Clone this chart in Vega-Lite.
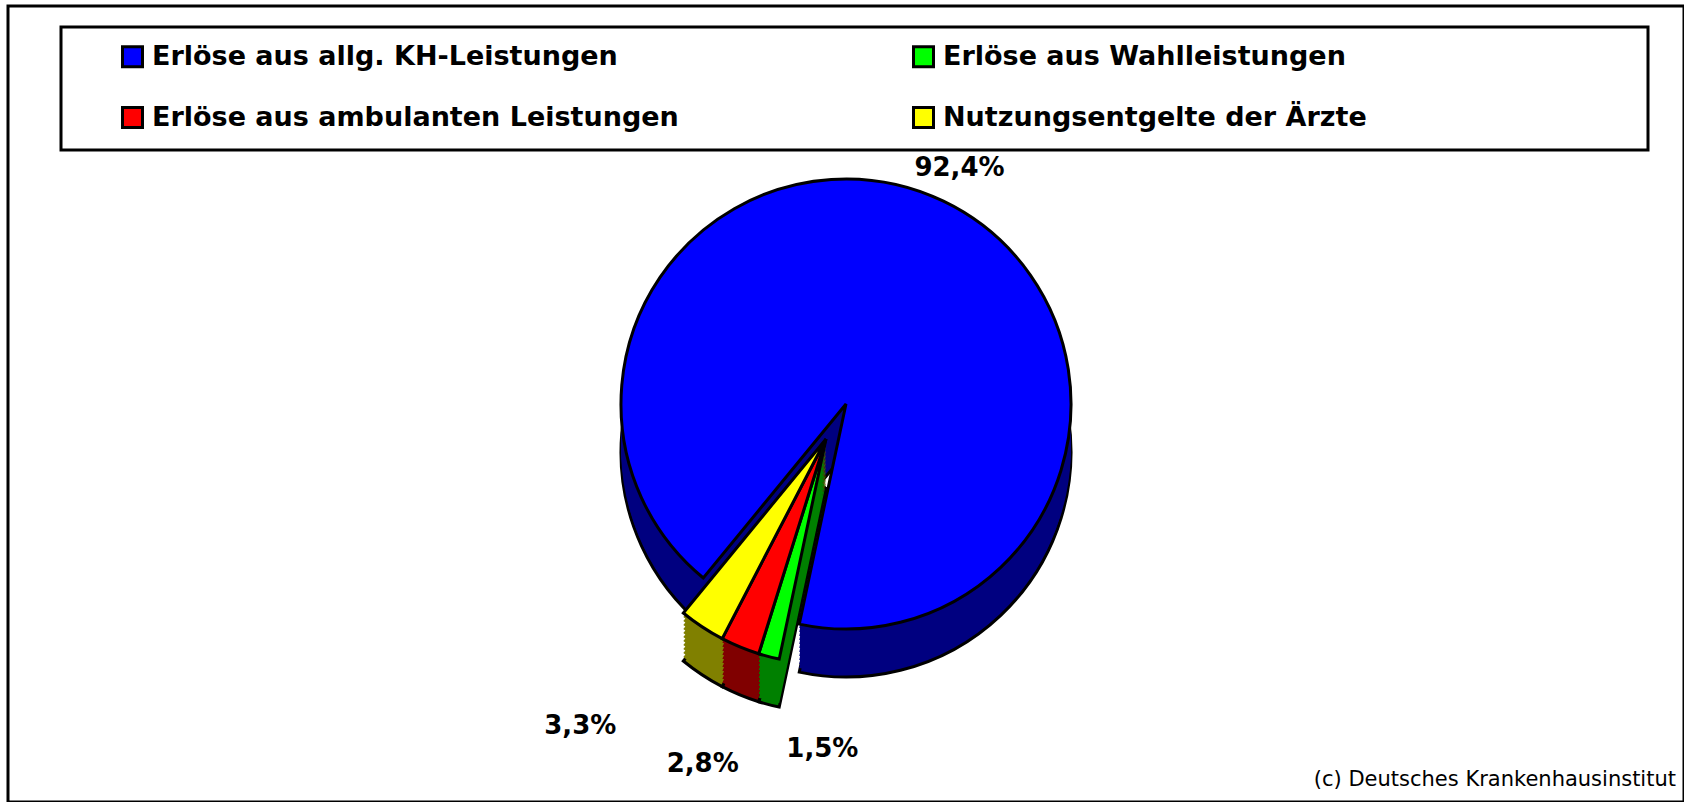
{
  "$schema": "https://vega.github.io/schema/vega-lite/v6.json",
  "autosize": {"type": "fit", "contains": "padding"},
  "width": 1684,
  "height": 802,
  "padding": {"left": 8, "top": 6, "right": 0, "bottom": 0},
  "background": "white",
  "config": {
    "view": {"stroke": "black", "strokeWidth": 3},
    "font": "DejaVu Sans"
  },
  "data": {
    "values": [
      {"cat": "Erlöse aus Wahlleistungen", "value": 1.5, "label": "1,5%"},
      {"cat": "Erlöse aus ambulanten Leistungen", "value": 2.8, "label": "2,8%"},
      {"cat": "Nutzungsentgelte der Ärzte", "value": 3.3, "label": "3,3%"},
      {"cat": "Erlöse aus allg. KH-Leistungen", "value": 92.4, "label": "92,4%"}
    ]
  },
  "transform": [
    {"stack": "value", "groupby": [], "as": ["v0", "v1"]},
    {"calculate": "(datum.v0 + datum.v1) / 2", "as": "vmid"}
  ],
  "layer": [
    {"transform": [{"filter": "datum.value > 50"}], "mark": {"type": "arc", "outerRadius": 225, "yOffset": 48, "fill": "#000080", "stroke": "black", "strokeWidth": 3},
     "encoding": {"theta": {"field": "v0", "type": "quantitative", "stack": null, "scale": {"domain": [0, 100], "range": [3.351, 9.634]}}, "theta2": {"field": "v1"}}},
    {"transform": [{"filter": "datum.value > 50"}], "mark": {"type": "arc", "outerRadius": 225, "yOffset": 44, "fill": "#000080"}, "encoding": {"theta": {"field": "v0", "type": "quantitative", "stack": null}, "theta2": {"field": "v1"}}},
    {"transform": [{"filter": "datum.value > 50"}], "mark": {"type": "arc", "outerRadius": 225, "yOffset": 40, "fill": "#000080"}, "encoding": {"theta": {"field": "v0", "type": "quantitative", "stack": null}, "theta2": {"field": "v1"}}},
    {"transform": [{"filter": "datum.value > 50"}], "mark": {"type": "arc", "outerRadius": 225, "yOffset": 36, "fill": "#000080"}, "encoding": {"theta": {"field": "v0", "type": "quantitative", "stack": null}, "theta2": {"field": "v1"}}},
    {"transform": [{"filter": "datum.value > 50"}], "mark": {"type": "arc", "outerRadius": 225, "yOffset": 32, "fill": "#000080"}, "encoding": {"theta": {"field": "v0", "type": "quantitative", "stack": null}, "theta2": {"field": "v1"}}},
    {"transform": [{"filter": "datum.value > 50"}], "mark": {"type": "arc", "outerRadius": 225, "yOffset": 28, "fill": "#000080"}, "encoding": {"theta": {"field": "v0", "type": "quantitative", "stack": null}, "theta2": {"field": "v1"}}},
    {"transform": [{"filter": "datum.value > 50"}], "mark": {"type": "arc", "outerRadius": 225, "yOffset": 24, "fill": "#000080"}, "encoding": {"theta": {"field": "v0", "type": "quantitative", "stack": null}, "theta2": {"field": "v1"}}},
    {"transform": [{"filter": "datum.value > 50"}], "mark": {"type": "arc", "outerRadius": 225, "yOffset": 20, "fill": "#000080"}, "encoding": {"theta": {"field": "v0", "type": "quantitative", "stack": null}, "theta2": {"field": "v1"}}},
    {"transform": [{"filter": "datum.value > 50"}], "mark": {"type": "arc", "outerRadius": 225, "yOffset": 16, "fill": "#000080"}, "encoding": {"theta": {"field": "v0", "type": "quantitative", "stack": null}, "theta2": {"field": "v1"}}},
    {"transform": [{"filter": "datum.value > 50"}], "mark": {"type": "arc", "outerRadius": 225, "yOffset": 12, "fill": "#000080"}, "encoding": {"theta": {"field": "v0", "type": "quantitative", "stack": null}, "theta2": {"field": "v1"}}},
    {"transform": [{"filter": "datum.value > 50"}], "mark": {"type": "arc", "outerRadius": 225, "yOffset": 8, "fill": "#000080"}, "encoding": {"theta": {"field": "v0", "type": "quantitative", "stack": null}, "theta2": {"field": "v1"}}},
    {"transform": [{"filter": "datum.value > 50"}], "mark": {"type": "arc", "outerRadius": 225, "yOffset": 4, "fill": "#000080"}, "encoding": {"theta": {"field": "v0", "type": "quantitative", "stack": null}, "theta2": {"field": "v1"}}},
    {
      "transform": [{"filter": "datum.value > 50"}],
      "mark": {"type": "arc", "outerRadius": 225, "stroke": "black", "strokeWidth": 3},
      "encoding": {
        "theta": {"field": "v0", "type": "quantitative", "stack": null},
        "theta2": {"field": "v1"},
        "color": {
          "field": "cat", "type": "nominal",
          "scale": {"domain": ["Erlöse aus allg. KH-Leistungen", "Erlöse aus ambulanten Leistungen", "Erlöse aus Wahlleistungen", "Nutzungsentgelte der Ärzte"], "range": ["#0000FF", "#FF0000", "#00FF00", "#FFFF00"]},
          "legend": {
            "title": " ",
            "titleOrient": "right",
            "titlePadding": 265,
            "titleFontSize": 10,
            "orient": "none",
            "legendX": 53,
            "legendY": 21,
            "columns": 2,
            "columnPadding": 189,
            "rowPadding": 28,
            "padding": 16,
            "symbolOffset": 42,
            "symbolType": "square",
            "symbolSize": 400,
            "symbolStrokeColor": "black",
            "symbolStrokeWidth": 3,
            "symbolOpacity": 1,
            "labelFont": "DejaVu Sans",
            "labelFontWeight": "bold",
            "labelFontSize": 27,
            "labelColor": "black",
            "labelOffset": 6,
            "labelLimit": 800,
            "strokeColor": "black",
            "fillColor": "white",
            "encode": {"legend": {"update": {"strokeWidth": {"value": 3}}}}
          }
        }
      }
    },
    {"transform": [{"filter": "datum.value < 50"}], "mark": {"type": "arc", "outerRadius": 225, "xOffset": -20, "yOffset": 83, "stroke": "black", "strokeWidth": 3}, "encoding": {"theta": {"field": "v0", "type": "quantitative", "stack": null}, "theta2": {"field": "v1"}, "fill": {"condition": [{"test": "datum.cat == 'Nutzungsentgelte der Ärzte'", "value": "#808000"}, {"test": "datum.cat == 'Erlöse aus ambulanten Leistungen'", "value": "#800000"}], "value": "#008000"}}},
    {"transform": [{"filter": "datum.value < 50"}], "mark": {"type": "arc", "outerRadius": 225, "xOffset": -20, "yOffset": 79}, "encoding": {"theta": {"field": "v0", "type": "quantitative", "stack": null}, "theta2": {"field": "v1"}, "fill": {"condition": [{"test": "datum.cat == 'Nutzungsentgelte der Ärzte'", "value": "#808000"}, {"test": "datum.cat == 'Erlöse aus ambulanten Leistungen'", "value": "#800000"}], "value": "#008000"}}},
    {"transform": [{"filter": "datum.value < 50"}], "mark": {"type": "arc", "outerRadius": 225, "xOffset": -20, "yOffset": 75}, "encoding": {"theta": {"field": "v0", "type": "quantitative", "stack": null}, "theta2": {"field": "v1"}, "fill": {"condition": [{"test": "datum.cat == 'Nutzungsentgelte der Ärzte'", "value": "#808000"}, {"test": "datum.cat == 'Erlöse aus ambulanten Leistungen'", "value": "#800000"}], "value": "#008000"}}},
    {"transform": [{"filter": "datum.value < 50"}], "mark": {"type": "arc", "outerRadius": 225, "xOffset": -20, "yOffset": 71}, "encoding": {"theta": {"field": "v0", "type": "quantitative", "stack": null}, "theta2": {"field": "v1"}, "fill": {"condition": [{"test": "datum.cat == 'Nutzungsentgelte der Ärzte'", "value": "#808000"}, {"test": "datum.cat == 'Erlöse aus ambulanten Leistungen'", "value": "#800000"}], "value": "#008000"}}},
    {"transform": [{"filter": "datum.value < 50"}], "mark": {"type": "arc", "outerRadius": 225, "xOffset": -20, "yOffset": 67}, "encoding": {"theta": {"field": "v0", "type": "quantitative", "stack": null}, "theta2": {"field": "v1"}, "fill": {"condition": [{"test": "datum.cat == 'Nutzungsentgelte der Ärzte'", "value": "#808000"}, {"test": "datum.cat == 'Erlöse aus ambulanten Leistungen'", "value": "#800000"}], "value": "#008000"}}},
    {"transform": [{"filter": "datum.value < 50"}], "mark": {"type": "arc", "outerRadius": 225, "xOffset": -20, "yOffset": 63}, "encoding": {"theta": {"field": "v0", "type": "quantitative", "stack": null}, "theta2": {"field": "v1"}, "fill": {"condition": [{"test": "datum.cat == 'Nutzungsentgelte der Ärzte'", "value": "#808000"}, {"test": "datum.cat == 'Erlöse aus ambulanten Leistungen'", "value": "#800000"}], "value": "#008000"}}},
    {"transform": [{"filter": "datum.value < 50"}], "mark": {"type": "arc", "outerRadius": 225, "xOffset": -20, "yOffset": 59}, "encoding": {"theta": {"field": "v0", "type": "quantitative", "stack": null}, "theta2": {"field": "v1"}, "fill": {"condition": [{"test": "datum.cat == 'Nutzungsentgelte der Ärzte'", "value": "#808000"}, {"test": "datum.cat == 'Erlöse aus ambulanten Leistungen'", "value": "#800000"}], "value": "#008000"}}},
    {"transform": [{"filter": "datum.value < 50"}], "mark": {"type": "arc", "outerRadius": 225, "xOffset": -20, "yOffset": 55}, "encoding": {"theta": {"field": "v0", "type": "quantitative", "stack": null}, "theta2": {"field": "v1"}, "fill": {"condition": [{"test": "datum.cat == 'Nutzungsentgelte der Ärzte'", "value": "#808000"}, {"test": "datum.cat == 'Erlöse aus ambulanten Leistungen'", "value": "#800000"}], "value": "#008000"}}},
    {"transform": [{"filter": "datum.value < 50"}], "mark": {"type": "arc", "outerRadius": 225, "xOffset": -20, "yOffset": 51}, "encoding": {"theta": {"field": "v0", "type": "quantitative", "stack": null}, "theta2": {"field": "v1"}, "fill": {"condition": [{"test": "datum.cat == 'Nutzungsentgelte der Ärzte'", "value": "#808000"}, {"test": "datum.cat == 'Erlöse aus ambulanten Leistungen'", "value": "#800000"}], "value": "#008000"}}},
    {"transform": [{"filter": "datum.value < 50"}], "mark": {"type": "arc", "outerRadius": 225, "xOffset": -20, "yOffset": 47}, "encoding": {"theta": {"field": "v0", "type": "quantitative", "stack": null}, "theta2": {"field": "v1"}, "fill": {"condition": [{"test": "datum.cat == 'Nutzungsentgelte der Ärzte'", "value": "#808000"}, {"test": "datum.cat == 'Erlöse aus ambulanten Leistungen'", "value": "#800000"}], "value": "#008000"}}},
    {"transform": [{"filter": "datum.value < 50"}], "mark": {"type": "arc", "outerRadius": 225, "xOffset": -20, "yOffset": 43}, "encoding": {"theta": {"field": "v0", "type": "quantitative", "stack": null}, "theta2": {"field": "v1"}, "fill": {"condition": [{"test": "datum.cat == 'Nutzungsentgelte der Ärzte'", "value": "#808000"}, {"test": "datum.cat == 'Erlöse aus ambulanten Leistungen'", "value": "#800000"}], "value": "#008000"}}},
    {"transform": [{"filter": "datum.value < 50"}], "mark": {"type": "arc", "outerRadius": 225, "xOffset": -20, "yOffset": 39}, "encoding": {"theta": {"field": "v0", "type": "quantitative", "stack": null}, "theta2": {"field": "v1"}, "fill": {"condition": [{"test": "datum.cat == 'Nutzungsentgelte der Ärzte'", "value": "#808000"}, {"test": "datum.cat == 'Erlöse aus ambulanten Leistungen'", "value": "#800000"}], "value": "#008000"}}},
    {"transform": [{"filter": "datum.value < 50"}], "mark": {"type": "arc", "outerRadius": 225, "xOffset": -20, "yOffset": 35, "stroke": "black", "strokeWidth": 3}, "encoding": {"theta": {"field": "v0", "type": "quantitative", "stack": null}, "theta2": {"field": "v1"}, "color": {"field": "cat", "type": "nominal"}}},
    {
      "transform": [{"filter": "datum.value > 50"}],
      "mark": {"type": "text", "radius": 262, "font": "DejaVu Sans", "fontWeight": "bold", "fontSize": 26, "color": "black"},
      "encoding": {"theta": {"field": "vmid", "type": "quantitative", "stack": null}, "text": {"field": "label"}}
    },
    {
      "transform": [{"filter": "datum.cat == 'Nutzungsentgelte der Ärzte'"}],
      "mark": {"type": "text", "radius": 310, "xOffset": -20, "yOffset": 35, "dx": -75, "dy": 28, "font": "DejaVu Sans", "fontWeight": "bold", "fontSize": 26, "color": "black"},
      "encoding": {"theta": {"field": "vmid", "type": "quantitative", "stack": null}, "text": {"field": "label"}}
    },
    {
      "transform": [{"filter": "datum.cat == 'Erlöse aus ambulanten Leistungen'"}],
      "mark": {"type": "text", "radius": 310, "xOffset": -20, "yOffset": 35, "dx": -5, "dy": 38, "font": "DejaVu Sans", "fontWeight": "bold", "fontSize": 26, "color": "black"},
      "encoding": {"theta": {"field": "vmid", "type": "quantitative", "stack": null}, "text": {"field": "label"}}
    },
    {
      "transform": [{"filter": "datum.cat == 'Erlöse aus Wahlleistungen'"}],
      "mark": {"type": "text", "radius": 310, "xOffset": -20, "yOffset": 35, "dx": 75, "dy": 10, "font": "DejaVu Sans", "fontWeight": "bold", "fontSize": 26, "color": "black"},
      "encoding": {"theta": {"field": "vmid", "type": "quantitative", "stack": null}, "text": {"field": "label"}}
    },
    {
      "data": {"values": [{"note": "(c) Deutsches Krankenhausinstitut"}]},
      "mark": {"type": "text", "align": "right", "baseline": "bottom", "dx": -8, "dy": -12, "font": "DejaVu Sans", "fontSize": 21, "color": "black"},
      "encoding": {"x": {"value": "width"}, "y": {"value": "height"}, "text": {"field": "note"}}
    }
  ]
}
